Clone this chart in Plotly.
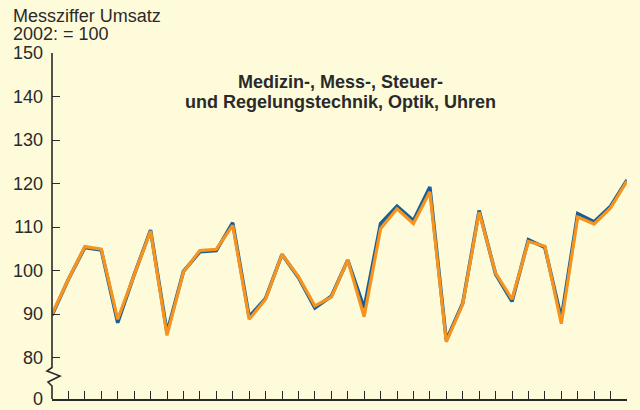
import plotly.graph_objects as go

# Monthly index values (2002 = 100), 36 months
months = list(range(36))
series_blue = [89.7, 98.0, 105.3, 104.7, 88.0, 99.0, 109.3, 85.8, 99.8, 104.3,
               104.6, 111.0, 89.4, 93.6, 103.7, 98.4, 91.4, 94.1, 102.4, 91.4,
               110.8, 114.8, 111.5, 119.2, 84.0, 92.5, 113.8, 99.2, 92.9, 107.1,
               105.3, 89.0, 113.1, 111.2, 114.8, 120.8]
series_orange = [90.0, 98.0, 105.5, 104.9, 88.8, 99.0, 109.1, 85.1, 99.7, 104.6,
                 104.9, 110.4, 88.8, 93.4, 103.7, 98.6, 91.9, 93.9, 102.4, 89.4,
                 109.6, 114.2, 110.8, 118.1, 83.6, 92.3, 113.4, 99.4, 93.4, 106.7,
                 105.6, 87.8, 112.3, 110.7, 114.4, 120.6]

y_tick_vals = [80, 90, 100, 110, 120, 130, 140, 150]
y_break_val = 70.48          # axis position that represents 0 (broken axis)
y_tick_labels = ["0"] + [str(v) for v in y_tick_vals]

title_lines = ["Medizin-, Mess-, Steuer-", "und Regelungstechnik, Optik, Uhren"]
unit_lines = ["Messziffer Umsatz", "2002: = 100"]

BG = "#FEFBDB"
INK = "#2a2a2a"
BLUE = "#175E98"
ORANGE = "#F7941E"
FONT = "Liberation Sans, Arial"

W, H = 640, 410
ML, MR, MT, MB = 52, 13, 53, 11
PW, PH = W - ML - MR, H - MT - MB

fig = go.Figure()
fig.add_trace(go.Scatter(x=months, y=series_blue, mode="lines",
                         line=dict(color=BLUE, width=3.5), hoverinfo="skip"))
fig.add_trace(go.Scatter(x=months, y=series_orange, mode="lines",
                         line=dict(color=ORANGE, width=3.2), hoverinfo="skip"))

def px_to_paper(xp, yp):
    return (xp - ML) / PW, (H - MB - yp) / PH

# broken y axis line with zigzag
pts = [(ML, MT), (ML, 367.5), (ML - 5, 371), (ML + 8, 376), (ML - 4, 382),
       (ML, 386), (ML, H - MB)]
path = ""
for k, (xp, yp) in enumerate(pts):
    xx, yy = px_to_paper(xp, yp)
    path += ("M" if k == 0 else "L") + f"{xx:.5f},{yy:.5f} "
fig.add_shape(type="path", path=path, xref="paper", yref="paper",
              line=dict(color=INK, width=1.6), layer="above")

for line, ypx in zip(title_lines, [82, 102]):
    fig.add_annotation(text=f"<b>{line}</b>", xref="paper", yref="paper",
                       x=px_to_paper(340, 0)[0], y=px_to_paper(0, ypx)[1],
                       xanchor="center", yanchor="middle", showarrow=False,
                       font=dict(family=FONT, size=18, color=INK))
for line, ypx in zip(unit_lines, [16, 34]):
    fig.add_annotation(text=line, xref="paper", yref="paper",
                       x=px_to_paper(11, 0)[0], y=px_to_paper(0, ypx)[1],
                       xanchor="left", yanchor="middle", showarrow=False,
                       font=dict(family=FONT, size=18, color=INK))

fig.update_layout(
    width=W, height=H, margin=dict(l=ML, r=MR, t=MT, b=MB, autoexpand=False),
    paper_bgcolor=BG, plot_bgcolor=BG, showlegend=False,
    font=dict(family=FONT, size=18, color=INK),
    xaxis=dict(range=[0, 35], showgrid=False, zeroline=False, showline=True,
               linecolor=INK, linewidth=1.6, ticks="inside", ticklen=8,
               tickwidth=1.4, tickcolor=INK, tickvals=months, showticklabels=False),
    yaxis=dict(range=[y_break_val, 150], showgrid=False, zeroline=False,
               showline=False, ticks="inside", ticklen=8, tickwidth=1.4,
               tickcolor=INK, tickvals=[y_break_val] + y_tick_vals,
               ticktext=y_tick_labels, ticklabelstandoff=8, automargin=False),
)
fig.write_html("out.html", config={"displayModeBar": False},
               post_script="document.body.style.margin='0';")
